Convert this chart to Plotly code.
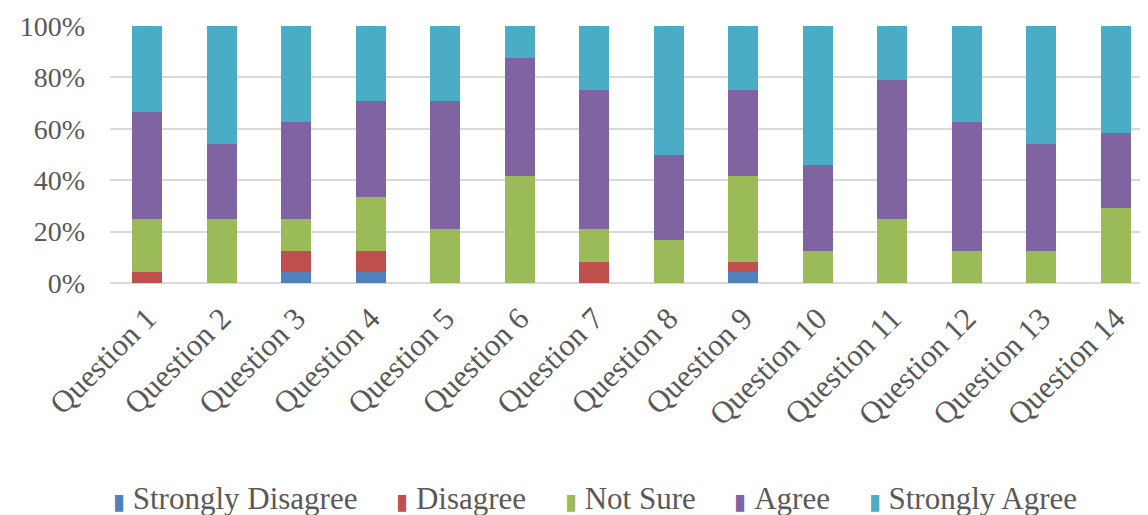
import plotly.graph_objects as go

questions = [f"Question {i}" for i in range(1, 15)]
series_names = ["Strongly Disagree", "Disagree", "Not Sure", "Agree", "Strongly Agree"]
colors = ["#4F81BD", "#C0504D", "#9BBB59", "#8064A2", "#4BACC6"]

# percentages (n = 24 respondents)
strongly_disagree = [0, 0, 4.17, 4.17, 0, 0, 0, 0, 4.17, 0, 0, 0, 0, 0]
disagree = [4.17, 0, 8.33, 8.33, 0, 0, 8.33, 0, 4.17, 0, 0, 0, 0, 0]
not_sure = [20.83, 25.0, 12.5, 20.83, 20.83, 41.67, 12.5, 16.67, 33.33, 12.5, 25.0, 12.5, 12.5, 29.17]
agree = [41.67, 29.17, 37.5, 37.5, 50.0, 45.83, 54.17, 33.33, 33.33, 33.33, 54.17, 50.0, 41.67, 29.17]
strongly_agree = [33.33, 45.83, 37.5, 29.17, 29.17, 12.5, 25.0, 50.0, 25.0, 54.17, 20.83, 37.5, 45.83, 41.67]

values = [strongly_disagree, disagree, not_sure, agree, strongly_agree]

font_family = "Liberation Serif"

fig = go.Figure()
for name, vals, c in zip(series_names, values, colors):
    fig.add_trace(go.Bar(
        name=name, x=questions, y=vals, marker=dict(color=c, line=dict(width=0)),
        width=0.4, showlegend=False,
    ))

# legend drawn as text (keeps serif font like the reference)
legend_text = "&nbsp;&nbsp;&nbsp;&nbsp;&nbsp;".join(
    f'<span style="color:{c};font-size:22px">▮</span>&nbsp;{n}' for n, c in zip(series_names, colors)
)
fig.add_annotation(
    text=legend_text, xref="paper", yref="paper", x=0.465, y=-0.838,
    xanchor="center", yanchor="middle", showarrow=False,
    font=dict(family=font_family, size=31, color="#595959"),
)

fig.update_layout(
    template="none",
    barmode="stack",
    width=1148, height=515,
    margin=dict(l=102, r=3, t=18, b=240),
    plot_bgcolor="white", paper_bgcolor="white",
    font=dict(family=font_family, color="#595959", size=27),
    showlegend=False,
    xaxis=dict(range=[-0.5, 13.5], tickangle=-45,
               tickfont=dict(family=font_family, size=31, color="#595959"),
               showgrid=False, ticks="", showline=False, automargin=False,
               ticklabelstandoff=10),
    yaxis=dict(range=[0, 100], tickvals=[0, 20, 40, 60, 80, 100],
               ticktext=["0%", "20%", "40%", "60%", "80%", "100%"],
               showgrid=True, gridcolor="#D9D9D9", gridwidth=1.5,
               zeroline=True, zerolinecolor="#D9D9D9", zerolinewidth=1.5,
               tickfont=dict(family=font_family, size=28, color="#595959"),
               ticks="", ticklen=0, automargin=False, ticklabelstandoff=24),
)

fig.write_html("out.html")
